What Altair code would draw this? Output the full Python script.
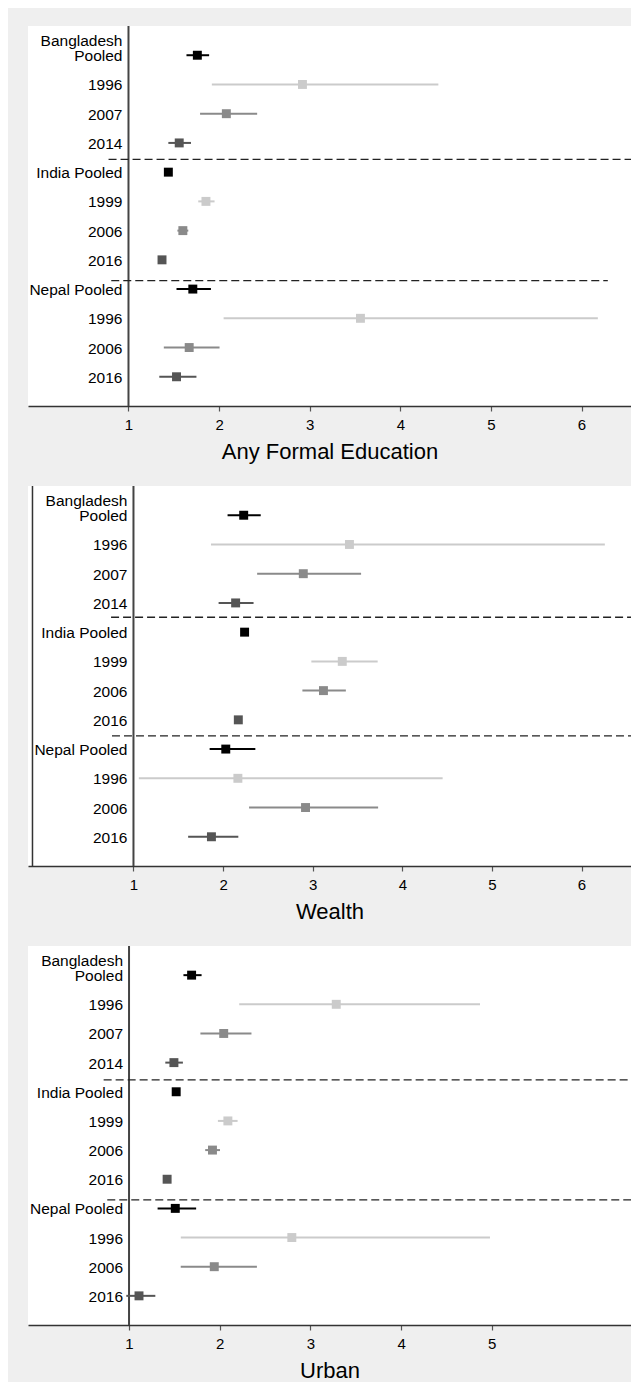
import altair as alt
import pandas as pd

# ---- data ----
row_labels = ["Bangladesh\nPooled", "1996", "2007", "2014",
              "India Pooled", "1999", "2006", "2016",
              "Nepal Pooled", "1996", "2006", "2016"]
row_kind = ["Pooled", "Wave 1", "Wave 2", "Wave 3",
            "Pooled", "Wave 1", "Wave 2", "Wave 3",
            "Pooled", "Wave 1", "Wave 2", "Wave 3"]
row_pos = [0, 1, 2, 3, 4, 5, 6, 7, 8, 9, 10, 11]

edu_est = [1.76, 2.92, 2.08, 1.56, 1.44, 1.855, 1.60, 1.37, 1.71, 3.56, 1.67, 1.53]
edu_lo = [1.64, 1.92, 1.79, 1.44, 1.41, 1.77, 1.54, 1.35, 1.53, 2.05, 1.39, 1.34]
edu_hi = [1.89, 4.42, 2.42, 1.69, 1.47, 1.95, 1.66, 1.39, 1.91, 6.18, 2.005, 1.75]

wealth_est = [2.23, 3.41, 2.895, 2.14, 2.24, 3.33, 3.12, 2.17, 2.03, 2.165, 2.92, 1.87]
wealth_lo = [2.05, 1.865, 2.38, 1.95, 2.21, 2.985, 2.885, 2.15, 1.85, 1.06, 2.29, 1.61]
wealth_hi = [2.42, 6.26, 3.54, 2.34, 2.27, 3.725, 3.37, 2.19, 2.36, 4.45, 3.73, 2.17]

urban_est = [1.69, 3.285, 2.044, 1.495, 1.52, 2.09, 1.92, 1.42, 1.51, 2.795, 1.94, 1.11]
urban_lo = [1.60, 2.215, 1.787, 1.40, 1.50, 1.98, 1.84, 1.40, 1.315, 1.571, 1.57, 0.97]
urban_hi = [1.80, 4.87, 2.35, 1.594, 1.54, 2.197, 2.003, 1.44, 1.74, 4.98, 2.41, 1.29]

edu_sep_row = [3.56, 7.71]
edu_sep_start = [0.78, 0.81]
edu_sep_end = [7.0, 6.29]

wealth_sep_row = [3.49, 7.55]
wealth_sep_start = [0.75, 0.76]
wealth_sep_end = [7.0, 7.0]

urban_sep_row = [3.59, 7.71]
urban_sep_start = [0.72, 0.76]
urban_sep_end = [7.0, 7.0]

edu_ticks = [1, 2, 3, 4, 5, 6]
wealth_ticks = [1, 2, 3, 4, 5, 6]
urban_ticks = [1, 2, 3, 4, 5]

reference_value = 1.0
row_range = [-1, 12]

kind_names = ["Pooled", "Wave 1", "Wave 2", "Wave 3"]
kind_colors = ["#000000", "#cbcbcb", "#8a8a8a", "#555555"]

FONT = "Liberation Sans"
PLOT_W = 603


def panel(est, lo, hi, sep_row, sep_start, sep_end, ticks, title, xdom, height,
          left_border=False):
    df = pd.DataFrame({"row": row_pos, "label": row_labels, "kind": row_kind,
                       "est": est, "lo": lo, "hi": hi})
    sep = pd.DataFrame({"row": sep_row, "start": sep_start, "end": sep_end})
    ref = pd.DataFrame({"x": [reference_value], "y0": [row_range[0]], "y1": [row_range[1]]})

    xs = alt.Scale(domain=xdom, nice=False, zero=False)
    ys = alt.Scale(domain=row_range, reverse=True, nice=False, zero=False)
    col = alt.Color("kind:N", scale=alt.Scale(domain=kind_names, range=kind_colors), legend=None)

    xaxis = alt.Axis(values=ticks, title=title, grid=False, domainColor="#333333",
                     domainWidth=1.5, tickColor="#555555", tickSize=5, tickWidth=1.2,
                     labelFontSize=15, labelPadding=6, labelColor="#000000", labelFont=FONT,
                     titleFontSize=22, titleFontWeight="normal", titleColor="#000000",
                     titleFont=FONT, titlePadding=9.5, format="d")

    def X(field):
        return alt.X(field, scale=xs, axis=xaxis, title=title)

    def Y(field):
        return alt.Y(field, scale=ys, axis=None)

    base = alt.Chart(df)
    ci = base.mark_rule(strokeWidth=2).encode(
        x=X("lo:Q"), x2="hi:Q", y=Y("row:Q"), color=col,
    )
    pts = base.mark_point(shape="square", filled=True, size=80, opacity=1).encode(
        x=X("est:Q"), y=Y("row:Q"), color=col,
    )
    txt_base = base.transform_calculate(
        last="peek(split(datum.label, '\\n'))",
        head="length(split(datum.label, '\\n')) > 1 ? split(datum.label, '\\n')[0] : ''",
        datum_x=str(reference_value),
    )
    txt = txt_base.mark_text(align="right", baseline="middle", dx=-6, dy=1, fontSize=15.5,
                             font=FONT, color="#000000").encode(
        x=X("datum_x:Q"), y=Y("row:Q"), text="last:N",
    )
    txt_head = txt_base.transform_filter("datum.head != ''").mark_text(
        align="right", baseline="middle", dx=-6, dy=-14.3,
        fontSize=15.5, font=FONT, color="#000000").encode(
        x=X("datum_x:Q"), y=Y("row:Q"), text="head:N",
    )
    refline = alt.Chart(ref).mark_rule(color="#444444", strokeWidth=2).encode(
        x=X("x:Q"), y=Y("y0:Q"), y2="y1:Q",
    )
    seps = alt.Chart(sep).mark_rule(color="#222222", strokeWidth=1.3, strokeDash=[8, 4],
                                    clip=True).encode(
        x=X("start:Q"), x2="end:Q", y=Y("row:Q"),
    )
    layers = [refline, seps, ci, pts, txt, txt_head]
    if left_border:
        lb = pd.DataFrame({"x": [xdom[0] + 0.05], "y0": [row_range[0]], "y1": [row_range[1]]})
        layers.append(alt.Chart(lb).mark_rule(color="#333333", strokeWidth=1.5).encode(
            x=X("x:Q"), y=Y("y0:Q"), y2="y1:Q"))
    return alt.layer(*layers).properties(width=PLOT_W, height=height)


p1 = panel(edu_est, edu_lo, edu_hi, edu_sep_row, edu_sep_start, edu_sep_end,
           edu_ticks, "Any Formal Education", [-0.109, 6.546], 380)
p2 = panel(wealth_est, wealth_lo, wealth_hi, wealth_sep_row, wealth_sep_start, wealth_sep_end,
           wealth_ticks, "Wealth", [-0.177, 6.552], 380, left_border=True)
p3 = panel(urban_est, urban_lo, urban_hi, urban_sep_row, urban_sep_start, urban_sep_end,
           urban_ticks, "Urban", [-0.114, 6.535], 379)

chart = alt.vconcat(p1, p2, p3, spacing=22).properties(
    background="#efefef",
    padding={"left": 20, "top": 17, "right": 0, "bottom": 0},
).configure_view(stroke=None, fill="#ffffff")

chart.save("out.html", embed_options={"renderer": "svg", "actions": False})
